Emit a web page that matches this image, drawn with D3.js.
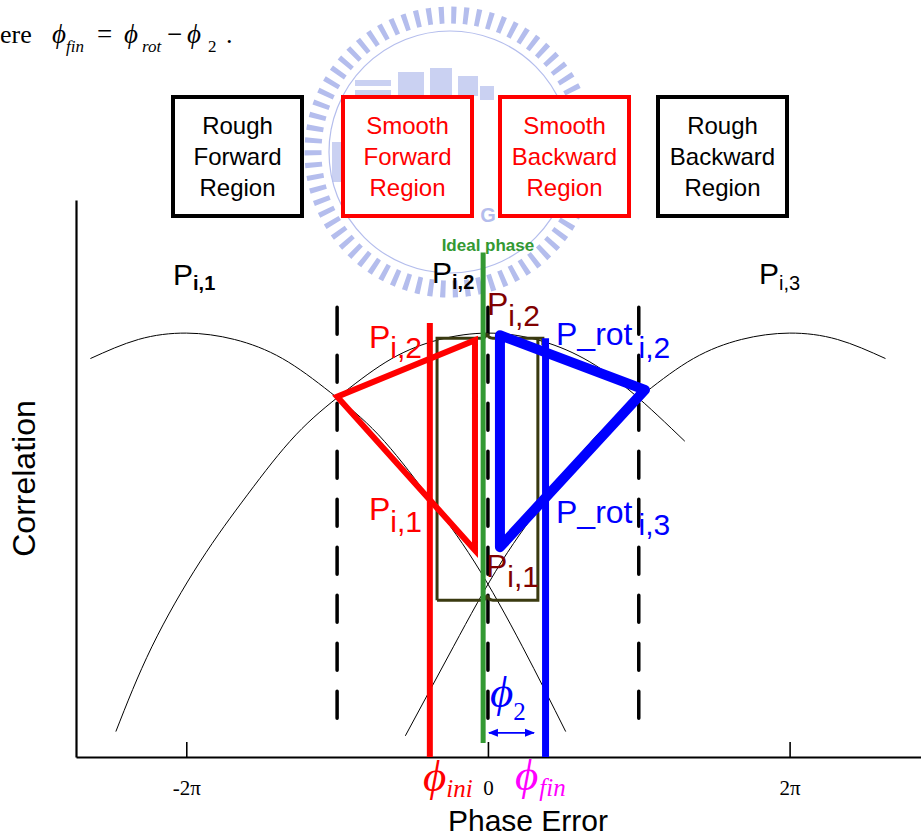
<!DOCTYPE html>
<html>
<head>
<meta charset="utf-8">
<script src="https://cdn.jsdelivr.net/npm/d3@7"></script>
<style>
  body { margin: 0; background: #fff; }
  svg { display: block; }
</style>
</head>
<body>
<div id="chart"></div>
<script>
// phase axis ticks
var tickValues = [-2 * Math.PI, 0, 2 * Math.PI];
var tickLabels = ["-2\u03c0", "0", "2\u03c0"];

// correlation curves P_i,1 / P_i,2 / P_i,3 (phase error in rad, correlation)
var leftPhase  = [-8.28, -7.28, -6.28, -5.28, -4.28, -3.28, -2.28, -1.28, -0.28, 0.72, 1.62];
var leftCorr   = [0.94, 0.985, 1, 0.985, 0.94, 0.86, 0.76, 0.62, 0.46, 0.26, 0.06];
var midPhase   = [-7.75, -7, -6, -5, -4, -3, -2, -1, 0, 1, 2, 3, 4.1];
var midCorr    = [0.06, 0.26, 0.46, 0.62, 0.76, 0.86, 0.94, 0.985, 1, 0.985, 0.94, 0.86, 0.745];
var rightPhase = [-1.72, -0.72, 0.28, 1.28, 2.28, 3.28, 4.28, 5.28, 6.28, 7.28, 8.28];
var rightCorr  = [0.05, 0.26, 0.46, 0.62, 0.76, 0.86, 0.94, 0.985, 1, 0.985, 0.94];

// region boundaries (dashed)
var boundPhase = [-Math.PI, 0, Math.PI];
var boundCorr = [1.061, 0.09];

// phase markers
var phiIni = -1.21, phiFin = 1.2, idealPhase = -0.1;
var phiIniTop = 1.024, phiFinTop = 0.988, idealTop = 1.19, idealBottom = 0.033;

// smooth forward triangle (red) and rotated triangle (blue)
var fwdPhase = [-0.27, -3.14, -0.27];
var fwdCorr  = [0.488, 0.85, 0.983];
var rotPhase = [0.25, 3.27, 0.25];
var rotCorr  = [0.995, 0.866, 0.495];

// bracket around the smooth window
var bracePhase = [-1.06, 1.04];
var braceCorr  = [0.988, 0.37];

// phi_2 arrow
var phi2From = 0, phi2To = 0.96, phi2Corr = 0.057;

var regions = [
  {lines: ["Rough", "Forward", "Region"], color: "#000"},
  {lines: ["Smooth", "Forward", "Region"], color: "#ff0000"},
  {lines: ["Smooth", "Backward", "Region"], color: "#ff0000"},
  {lines: ["Rough", "Backward", "Region"], color: "#000"}
];

function createVis() {
  var W = 921, H = 839;
  var svg = d3.select("#chart").append("svg")
    .attr("width", W).attr("height", H);

  var x = d3.scaleLinear().domain([-8.58, 9.02]).range([76, 921]);
  var y = d3.scaleLinear().domain([0, 1.314]).range([757, 200]);

  drawWatermark(svg);
  drawFormula(svg);
  drawRegionBoxes(svg);

  // axes
  var xAxis = svg.append("g")
    .attr("transform", "translate(0," + y(0) + ")")
    .call(d3.axisBottom(x)
      .tickValues(tickValues)
      .tickFormat(function(d, i) { return tickLabels[i]; })
      .tickSize(-15)
      .tickSizeOuter(0)
      .tickPadding(23));
  xAxis.select(".domain").attr("stroke-width", 2.2);
  xAxis.selectAll(".tick line").attr("stroke-width", 1.6);
  xAxis.selectAll(".tick text")
    .attr("font-family", "'Liberation Serif', 'Times New Roman', serif")
    .attr("font-size", 21)
    .attr("fill", "#000");

  var yAxis = svg.append("g")
    .attr("transform", "translate(" + x.range()[0] + ",0)")
    .call(d3.axisLeft(y).tickValues([]).tickSizeOuter(0));
  yAxis.select(".domain").attr("stroke-width", 2.2);

  // correlation curves
  var line = d3.line()
    .x(function(d) { return x(d[0]); })
    .y(function(d) { return y(d[1]); })
    .curve(d3.curveNatural);
  [[leftPhase, leftCorr], [midPhase, midCorr], [rightPhase, rightCorr]].forEach(function(c) {
    svg.append("path")
      .datum(d3.zip(c[0], c[1]))
      .attr("d", line)
      .attr("fill", "none")
      .attr("stroke", "#000")
      .attr("stroke-width", 1);
  });

  // region boundaries
  svg.selectAll("line.bound")
    .data(boundPhase)
    .enter().append("line")
    .attr("class", "bound")
    .attr("x1", function(d) { return x(d); })
    .attr("x2", function(d) { return x(d); })
    .attr("y1", y(boundCorr[0]))
    .attr("y2", y(boundCorr[1]))
    .attr("stroke", "#000")
    .attr("stroke-width", 3.5)
    .attr("stroke-linecap", "round")
    .attr("stroke-dasharray", "27 21");

  // bracket
  var bx0 = x(bracePhase[0]), bx1 = x(bracePhase[1]);
  var by0 = y(braceCorr[0]), by1 = y(braceCorr[1]);
  var bm = x(0) - 1;
  var bracePath = "M" + bx0 + "," + by1 + "V" + by0 +
    "H" + (bm - 6) + "Q" + (bm - 1) + "," + by0 + " " + bm + "," + (by0 - 5) +
    "Q" + (bm + 1) + "," + by0 + " " + (bm + 6) + "," + by0 +
    "H" + (bx1 + 5) + "v7" +
    "M" + bx1 + "," + by0 + "V" + by1 +
    "H" + (bm + 6) + "Q" + (bm + 1) + "," + by1 + " " + bm + "," + (by1 - 5) +
    "Q" + (bm - 1) + "," + by1 + " " + (bm - 6) + "," + by1 + "H" + bx0;
  svg.append("path")
    .attr("d", bracePath)
    .attr("fill", "none")
    .attr("stroke", "#3a3a10")
    .attr("stroke-width", 3);

  // ideal phase line
  svg.append("line")
    .attr("x1", x(idealPhase)).attr("x2", x(idealPhase))
    .attr("y1", y(idealTop)).attr("y2", y(idealBottom))
    .attr("stroke", "#339933")
    .attr("stroke-width", 5);
  svg.append("text")
    .attr("x", x(0)).attr("y", y(idealTop) - 2)
    .attr("text-anchor", "middle")
    .attr("font-family", "Arial, 'Liberation Sans', sans-serif")
    .attr("font-weight", "bold")
    .attr("font-size", 17)
    .attr("fill", "#339933")
    .text("Ideal phase");

  // triangles
  var tri = d3.line()
    .x(function(d) { return x(d[0]); })
    .y(function(d) { return y(d[1]); })
    .curve(d3.curveLinearClosed);
  svg.append("path")
    .datum(d3.zip(fwdPhase, fwdCorr))
    .attr("d", tri)
    .attr("fill", "none")
    .attr("stroke", "#ff0000")
    .attr("stroke-width", 6);
  svg.append("path")
    .datum(d3.zip(rotPhase, rotCorr))
    .attr("d", tri)
    .attr("fill", "none")
    .attr("stroke", "#0000ff")
    .attr("stroke-width", 10)
    .attr("stroke-linejoin", "round");

  // phi_ini and phi_fin
  svg.append("line")
    .attr("x1", x(phiIni)).attr("x2", x(phiIni))
    .attr("y1", y(phiIniTop)).attr("y2", y(0))
    .attr("stroke", "#ff0000").attr("stroke-width", 6);
  svg.append("line")
    .attr("x1", x(phiFin)).attr("x2", x(phiFin))
    .attr("y1", y(phiFinTop)).attr("y2", y(0))
    .attr("stroke", "#0000ff").attr("stroke-width", 7);

  // phi_2 arrow
  var defs = svg.append("defs");
  defs.append("marker")
    .attr("id", "arr")
    .attr("viewBox", "0 0 10 10")
    .attr("refX", 9).attr("refY", 5)
    .attr("markerWidth", 10).attr("markerHeight", 10)
    .attr("markerUnits", "userSpaceOnUse")
    .attr("orient", "auto-start-reverse")
    .append("path")
    .attr("d", "M0,1L10,5L0,9Z")
    .attr("fill", "#0000ff");
  svg.append("line")
    .attr("x1", x(phi2From) + 1).attr("x2", x(phi2To))
    .attr("y1", y(phi2Corr)).attr("y2", y(phi2Corr))
    .attr("stroke", "#0000ff").attr("stroke-width", 1.8)
    .attr("marker-start", "url(#arr)")
    .attr("marker-end", "url(#arr)");

  drawLabels(svg, x, y);
}

function pLabel(svg, px, py, main, sub, size, subSize, subDy, color, subBold, subDx) {
  var t = svg.append("text")
    .attr("x", px).attr("y", py)
    .attr("font-family", "Arial, 'Liberation Sans', sans-serif")
    .attr("font-size", size)
    .attr("fill", color);
  t.append("tspan").text(main);
  t.append("tspan")
    .attr("dx", subDx || 0)
    .attr("dy", subDy)
    .attr("font-size", subSize)
    .attr("font-weight", subBold ? "bold" : "normal")
    .text(sub);
}

function drawLabels(svg, x, y) {
  // black curve names
  pLabel(svg, 173, 285, "P", "i,1", 30, 20, 5, "#000", true);
  pLabel(svg, 432, 283, "P", "i,2", 30, 20, 6, "#000", true);
  pLabel(svg, 759, 284, "P", "i,3", 30, 20, 6, "#000", false);

  // red
  pLabel(svg, 369, 348, "P", "i,2", 32, 30, 10, "#ff0000", false);
  pLabel(svg, 369, 520, "P", "i,1", 32, 30, 12, "#ff0000", false);
  // dark red
  pLabel(svg, 487, 315, "P", "i,2", 32, 30, 11, "#800000", false);
  pLabel(svg, 486, 577, "P", "i,1", 32, 30, 10, "#800000", false);
  // blue
  pLabel(svg, 556, 345, "P_rot", "i,2", 32, 30, 13, "#0000ff", false, 6);
  pLabel(svg, 556, 523, "P_rot", "i,3", 32, 30, 12, "#0000ff", false, 6);

  // axis titles
  svg.append("text")
    .attr("transform", "translate(35," + y(0.657) + ") rotate(-90)")
    .attr("text-anchor", "middle")
    .attr("font-family", "Arial, 'Liberation Sans', sans-serif")
    .attr("font-size", 32)
    .text("Correlation");
  svg.append("text")
    .attr("x", 528).attr("y", 831)
    .attr("text-anchor", "middle")
    .attr("font-family", "Arial, 'Liberation Sans', sans-serif")
    .attr("font-size", 30)
    .text("Phase Error");

  // phi symbols, one text each with the subscript as a tspan
  var serif = "'Liberation Serif', 'Times New Roman', 'DejaVu Serif', serif";
  function phi(px, py, sub, subDx, subDy, color, subItalic) {
    var t = svg.append("text")
      .attr("x", px).attr("y", py)
      .attr("font-family", serif).attr("font-style", "italic")
      .attr("font-size", 45).attr("fill", color);
    t.append("tspan").text("\u03d5");
    t.append("tspan")
      .attr("dx", subDx).attr("dy", subDy)
      .attr("font-size", 25)
      .attr("font-style", subItalic ? "italic" : "normal")
      .text(sub);
  }
  phi(423, 791, "ini", 0, 6, "#ff0000", true);
  phi(515, 790, "fin", 1, 6, "#ff00ff", true);
  phi(490, 707, "2", 0, 13, "#0000ff", false);
}

function drawFormula(svg) {
  var serif = "'Liberation Serif', 'Times New Roman', 'DejaVu Serif', serif";
  var parts = [
    {t: "ere", x: 0, y: 43, s: 26, i: false},
    {t: "\u03d5", x: 52, y: 43, s: 27, i: true},
    {t: "fin", x: 66, y: 52, s: 17, i: true},
    {t: "=", x: 97, y: 43, s: 27, i: false},
    {t: "\u03d5", x: 124, y: 43, s: 27, i: true},
    {t: "rot", x: 142, y: 52, s: 17, i: true},
    {t: "\u2212", x: 167, y: 43, s: 27, i: false},
    {t: "\u03d5", x: 187, y: 43, s: 27, i: true},
    {t: "2", x: 208, y: 52, s: 17, i: false},
    {t: ".", x: 226, y: 43, s: 26, i: false}
  ];
  svg.selectAll("text.formula")
    .data(parts)
    .enter().append("text")
    .attr("class", "formula")
    .attr("x", function(d) { return d.x; })
    .attr("y", function(d) { return d.y; })
    .attr("font-family", serif)
    .attr("font-size", function(d) { return d.s; })
    .attr("font-style", function(d) { return d.i ? "italic" : "normal"; })
    .text(function(d) { return d.t; });
}

function drawRegionBoxes(svg) {
  var boxX = [173, 343, 500, 658];
  var bw = 129, top = 97, bh = 119;
  regions.forEach(function(r, i) {
    svg.append("rect")
      .attr("x", boxX[i]).attr("y", top)
      .attr("width", bw).attr("height", bh)
      .attr("fill", "#fff")
      .attr("stroke", r.color)
      .attr("stroke-width", 4);
    r.lines.forEach(function(l, j) {
      svg.append("text")
        .attr("x", boxX[i] + bw / 2)
        .attr("y", 134 + j * 31)
        .attr("text-anchor", "middle")
        .attr("font-family", "Arial, 'Liberation Sans', sans-serif")
        .attr("font-size", 24)
        .attr("fill", r.color)
        .text(l);
    });
  });
}

function drawWatermark(svg) {
  // faint university logo behind the top of the figure
  var c = "#a7b2ea";
  var g = svg.append("g").attr("transform", "translate(450,152)").attr("opacity", 0.85);
  g.append("circle")
    .attr("r", 137)
    .attr("fill", "none")
    .attr("stroke", c)
    .attr("stroke-width", 17)
    .attr("stroke-dasharray", "5 7.2");
  g.append("circle")
    .attr("r", 121)
    .attr("fill", "none")
    .attr("stroke", c)
    .attr("stroke-width", 1.2);
  var blocks = [[-95, -72, 36, 6], [-95, -62, 36, 6], [-95, -52, 36, 6], [-52, -80, 26, 24], [-20, -84, 22, 28], [8, -76, 20, 20], [30, -66, 14, 14], [-118, -10, 12, 40]];
  blocks.forEach(function(b) {
    g.append("rect")
      .attr("x", b[0]).attr("y", b[1])
      .attr("width", b[2]).attr("height", b[3])
      .attr("fill", c).attr("opacity", 0.7);
  });
  g.append("text")
    .attr("x", 38).attr("y", 70)
    .attr("text-anchor", "middle")
    .attr("font-family", "Arial, sans-serif")
    .attr("font-weight", "bold")
    .attr("font-size", 20)
    .attr("fill", c)
    .text("G");
}

createVis();
</script>
</body>
</html>
